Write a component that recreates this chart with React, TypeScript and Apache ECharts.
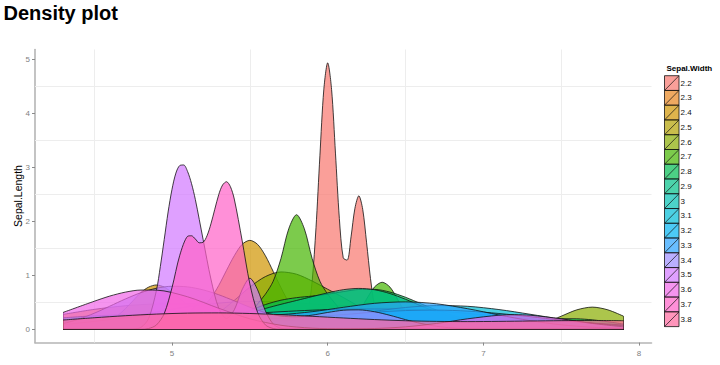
import React, { useEffect, useRef } from "react";
import * as echarts from "echarts";

type P = [number, number];

const groups = ["2.2", "2.3", "2.4", "2.5", "2.6", "2.7", "2.8", "2.9", "3", "3.1", "3.2", "3.3", "3.4", "3.5", "3.6", "3.7", "3.8"];

const d22: P[] = [[4.3, 0], [5.5, 0], [5.8, 0], [5.825, 0.025], [5.85, 0.1], [5.875, 0.34], [5.9, 0.88], [5.925, 1.88], [5.95, 3.21], [5.975, 4.43], [6.0, 4.93], [6.025, 4.44], [6.05, 3.26], [6.075, 2.05], [6.1, 1.32], [6.125, 1.28], [6.15, 1.71], [6.175, 2.24], [6.2, 2.47], [6.225, 2.22], [6.25, 1.6], [6.275, 0.94], [6.3, 0.44], [6.325, 0.17], [6.35, 0.05], [6.4, 0], [6.7, 0], [7.9, 0]];
const d23: P[] = [[4.3, 0.275], [4.5, 0.368], [4.7, 0.435], [4.9, 0.468], [5.1, 0.471], [5.3, 0.449], [5.5, 0.407], [5.7, 0.361], [5.9, 0.327], [6.1, 0.305], [6.3, 0.278], [6.5, 0.227], [6.7, 0.155], [6.9, 0.086], [7.1, 0.039], [7.3, 0.014], [7.5, 0.004], [7.7, 0.001], [7.9, 0]];
const d24: P[] = [[4.3, 0], [4.4, 0.007], [4.5, 0.04], [4.55, 0.08], [4.6, 0.15], [4.65, 0.25], [4.7, 0.38], [4.75, 0.53], [4.8, 0.68], [4.85, 0.78], [4.9, 0.82], [4.95, 0.78], [5.0, 0.68], [5.05, 0.57], [5.1, 0.46], [5.15, 0.41], [5.2, 0.44], [5.25, 0.58], [5.3, 0.81], [5.35, 1.09], [5.4, 1.36], [5.45, 1.57], [5.5, 1.645], [5.55, 1.57], [5.6, 1.36], [5.65, 1.07], [5.7, 0.77], [5.75, 0.5], [5.8, 0.29], [5.85, 0.16], [5.9, 0.08], [6.0, 0.014], [6.1, 0], [7.9, 0]];
const d25: P[] = [[4.3, 0.053], [4.5, 0.12], [4.7, 0.216], [4.9, 0.322], [5.1, 0.415], [5.3, 0.484], [5.5, 0.515], [5.7, 0.504], [5.9, 0.469], [6.1, 0.439], [6.3, 0.415], [6.5, 0.369], [6.7, 0.289], [6.9, 0.191], [7.1, 0.104], [7.3, 0.046], [7.5, 0.016], [7.7, 0.004], [7.9, 0.001]];
const d26: P[] = [[4.3, 0], [4.8, 0], [4.9, 0.004], [5.0, 0.016], [5.1, 0.054], [5.2, 0.144], [5.3, 0.307], [5.4, 0.534], [5.5, 0.78], [5.6, 0.975], [5.7, 1.061], [5.8, 1.019], [5.9, 0.893], [6.0, 0.741], [6.1, 0.588], [6.2, 0.424], [6.3, 0.261], [6.4, 0.129], [6.5, 0.05], [6.6, 0.015], [6.7, 0.004], [6.8, 0], [7.0, 0], [7.1, 0.004], [7.2, 0.015], [7.3, 0.05], [7.4, 0.125], [7.5, 0.242], [7.6, 0.359], [7.7, 0.41], [7.8, 0.359], [7.9, 0.242]];
const d27: P[] = [[4.3, 0], [4.9, 0], [4.95, 0.01], [5.0, 0.035], [5.05, 0.114], [5.1, 0.26], [5.15, 0.43], [5.2, 0.512], [5.25, 0.43], [5.3, 0.26], [5.35, 0.12], [5.4, 0.053], [5.45, 0.12], [5.5, 0.27], [5.55, 0.47], [5.6, 0.65], [5.65, 0.89], [5.7, 1.31], [5.75, 1.86], [5.8, 2.12], [5.85, 1.86], [5.9, 1.31], [5.95, 0.89], [6.0, 0.65], [6.05, 0.47], [6.1, 0.3], [6.15, 0.24], [6.2, 0.33], [6.25, 0.56], [6.3, 0.78], [6.35, 0.87], [6.4, 0.78], [6.45, 0.55], [6.5, 0.3], [6.55, 0.12], [6.6, 0.035], [6.65, 0.008], [6.7, 0], [7.9, 0]];
const d28: P[] = [[4.3, 0], [4.8, 0.0005], [4.9, 0.0025], [5.0, 0.0086], [5.1, 0.025], [5.2, 0.061], [5.3, 0.126], [5.4, 0.225], [5.5, 0.344], [5.6, 0.457], [5.7, 0.538], [5.8, 0.585], [5.9, 0.614], [6.0, 0.65], [6.1, 0.697], [6.2, 0.736], [6.3, 0.738], [6.4, 0.688], [6.5, 0.592], [6.6, 0.472], [6.7, 0.356], [6.8, 0.259], [6.9, 0.186], [7.0, 0.14], [7.1, 0.122], [7.2, 0.129], [7.3, 0.152], [7.4, 0.179], [7.5, 0.195], [7.6, 0.194], [7.7, 0.174], [7.8, 0.139], [7.9, 0.097]];
const d29: P[] = [[4.3, 0.145], [4.4, 0.157], [4.5, 0.145], [4.6, 0.115], [4.7, 0.078], [4.8, 0.047], [4.9, 0.027], [5.0, 0.023], [5.1, 0.036], [5.2, 0.071], [5.3, 0.129], [5.4, 0.208], [5.5, 0.298], [5.6, 0.385], [5.7, 0.462], [5.8, 0.533], [5.9, 0.604], [6.0, 0.674], [6.1, 0.732], [6.2, 0.756], [6.3, 0.732], [6.4, 0.661], [6.5, 0.555], [6.6, 0.432], [6.7, 0.315], [6.8, 0.221], [6.9, 0.163], [7.0, 0.138], [7.1, 0.143], [7.2, 0.156], [7.3, 0.16], [7.4, 0.146], [7.5, 0.115], [7.6, 0.078], [7.7, 0.046], [7.8, 0.023], [7.9, 0.01]];
const d30: P[] = [[4.3, 0.132], [4.5, 0.172], [4.7, 0.203], [4.9, 0.223], [5.1, 0.238], [5.3, 0.26], [5.5, 0.291], [5.7, 0.325], [5.9, 0.353], [6.1, 0.37], [6.3, 0.375], [6.5, 0.368], [6.7, 0.339], [6.9, 0.295], [7.1, 0.243], [7.3, 0.193], [7.5, 0.151], [7.7, 0.114], [7.9, 0.08]];
const d31: P[] = [[4.3, 0.173], [4.5, 0.222], [4.7, 0.253], [4.9, 0.255], [5.1, 0.231], [5.3, 0.194], [5.5, 0.164], [5.7, 0.159], [5.9, 0.19], [6.1, 0.253], [6.3, 0.333], [6.5, 0.403], [6.7, 0.439], [6.9, 0.425], [7.1, 0.365], [7.3, 0.278], [7.5, 0.187], [7.7, 0.112], [7.9, 0.059]];
const d32: P[] = [[4.3, 0.212], [4.5, 0.249], [4.7, 0.264], [4.9, 0.255], [5.1, 0.231], [5.3, 0.206], [5.5, 0.193], [5.7, 0.201], [5.9, 0.23], [6.1, 0.272], [6.3, 0.315], [6.5, 0.346], [6.7, 0.355], [6.9, 0.336], [7.1, 0.292], [7.3, 0.233], [7.5, 0.169], [7.7, 0.111], [7.9, 0.066]];
const d33: P[] = [[4.3, 0.083], [4.5, 0.145], [4.7, 0.212], [4.9, 0.265], [5.1, 0.286], [5.3, 0.276], [5.5, 0.261], [5.7, 0.272], [5.9, 0.325], [6.1, 0.406], [6.3, 0.48], [6.5, 0.507], [6.7, 0.471], [6.9, 0.38], [7.1, 0.265], [7.3, 0.16], [7.5, 0.083], [7.7, 0.037], [7.9, 0.014]];
const d34: P[] = [[4.3, 0.103], [4.4, 0.186], [4.5, 0.296], [4.6, 0.427], [4.7, 0.56], [4.8, 0.677], [4.9, 0.759], [5.0, 0.796], [5.1, 0.784], [5.2, 0.729], [5.3, 0.639], [5.4, 0.526], [5.5, 0.408], [5.6, 0.307], [5.7, 0.244], [5.8, 0.232], [5.9, 0.262], [6.0, 0.311], [6.1, 0.352], [6.2, 0.359], [6.3, 0.325], [6.4, 0.258], [6.5, 0.178], [6.6, 0.107], [6.7, 0.055], [6.8, 0.024], [6.9, 0.009], [7.0, 0.003], [7.1, 0], [7.9, 0]];
const d35: P[] = [[4.3, 0], [4.7, 0], [4.75, 0.004], [4.8, 0.033], [4.85, 0.2], [4.9, 0.72], [4.925, 1.16], [4.95, 1.66], [4.975, 2.17], [5.0, 2.59], [5.025, 2.89], [5.05, 3.03], [5.075, 3.04], [5.1, 2.92], [5.125, 2.7], [5.15, 2.4], [5.2, 1.66], [5.25, 0.93], [5.3, 0.39], [5.35, 0.2], [5.4, 0.36], [5.45, 0.73], [5.5, 0.944], [5.55, 0.73], [5.6, 0.34], [5.65, 0.097], [5.7, 0.017], [5.75, 0.002], [5.8, 0], [7.9, 0]];
const d36: P[] = [[4.3, 0.311], [4.5, 0.518], [4.6, 0.614], [4.7, 0.687], [4.8, 0.726], [4.9, 0.724], [5.1, 0.601], [5.3, 0.389], [5.5, 0.194], [5.7, 0.074], [5.9, 0.021], [6.1, 0.008], [6.3, 0.014], [6.5, 0.045], [6.7, 0.108], [6.9, 0.194], [7.1, 0.26], [7.2, 0.27], [7.3, 0.26], [7.5, 0.194], [7.7, 0.108], [7.9, 0.045]];
const d37: P[] = [[4.3, 0], [4.8, 0], [4.85, 0.014], [4.9, 0.08], [4.95, 0.29], [5.0, 0.77], [5.05, 1.37], [5.1, 1.72], [5.125, 1.73], [5.15, 1.67], [5.175, 1.6], [5.2, 1.61], [5.225, 1.73], [5.25, 1.95], [5.3, 2.49], [5.325, 2.67], [5.35, 2.73], [5.375, 2.64], [5.4, 2.41], [5.45, 1.65], [5.5, 0.84], [5.55, 0.31], [5.6, 0.08], [5.65, 0.014], [5.7, 0], [7.9, 0]];
const d38: P[] = [[4.3, 0.171], [4.5, 0.213], [4.7, 0.251], [4.9, 0.281], [5.1, 0.299], [5.3, 0.303], [5.5, 0.292], [5.7, 0.27], [5.9, 0.24], [6.1, 0.209], [6.3, 0.18], [6.5, 0.158], [6.7, 0.146], [6.9, 0.142], [7.1, 0.146], [7.3, 0.153], [7.5, 0.159], [7.7, 0.163], [7.9, 0.159]];

const densities: P[][] = [d22, d23, d24, d25, d26, d27, d28, d29, d30, d31, d32, d33, d34, d35, d36, d37, d38];

const xTicks = [5, 6, 7, 8];
const yTicks = [0, 1, 2, 3, 4, 5];
const xGrid = [4.5, 5.5, 6.5, 7.5];
const yGrid = [0.5, 1.5, 2.5, 3.5, 4.5];

const FONT = "'Liberation Sans', Arial, sans-serif";
const ALPHA = 0.7;

// ggplot-style hue palette (HCL, c=100, l=65)
function hcl(h: number, c: number, l: number): [number, number, number] {
  const WHITE_Y = 100.0, WHITE_u = 0.1978398, WHITE_v = 0.4683363;
  const hr = (h * Math.PI) / 180;
  const U = c * Math.cos(hr);
  const V = c * Math.sin(hr);
  const Y = WHITE_Y * (l > 7.999592 ? Math.pow((l + 16) / 116, 3) : l / 903.3);
  const u = U / (13 * l) + WHITE_u;
  const v = V / (13 * l) + WHITE_v;
  const X = (9.0 * Y * u) / (4 * v);
  const Z = -X / 3 - 5 * Y + (3 * Y) / v;
  const g = (t: number) => (t > 0.00304 ? 1.055 * Math.pow(t, 1 / 2.4) - 0.055 : 12.92 * t);
  const cl = (t: number) => Math.round(255 * Math.max(0, Math.min(1, t)));
  const r = g((3.240479 * X - 1.53715 * Y - 0.498535 * Z) / WHITE_Y);
  const gg = g((-0.969256 * X + 1.875992 * Y + 0.041556 * Z) / WHITE_Y);
  const b = g((0.055648 * X - 0.204043 * Y + 1.057311 * Z) / WHITE_Y);
  return [cl(r), cl(gg), cl(b)];
}
const palette = groups.map((_, i) => hcl(15 + (360 * i) / groups.length, 100, 65));
const rgb = (c: number[]) => `rgb(${c[0]},${c[1]},${c[2]})`;
const rgba = (c: number[], a: number) => `rgba(${c[0]},${c[1]},${c[2]},${a})`;

export default function App() {
  const ref = useRef<HTMLDivElement>(null);
  useEffect(() => {
    if (!ref.current) return;
    const chart = echarts.init(ref.current, undefined, { renderer: "svg" });
    const yMin = -0.2465;
    const yMax = 5.1765;

    const series: any[] = [
      {
        type: "line",
        name: "grid",
        data: [],
        z: 1,
        silent: true,
        markLine: {
          z: 1,
          silent: true,
          symbol: ["none", "none"],
          label: { show: false },
          animation: false,
          emphasis: { disabled: true },
          lineStyle: { color: "#EDEDED", width: 1, type: "solid" },
          data: [...xGrid.map((v) => ({ xAxis: v })), ...yGrid.map((v) => ({ yAxis: v }))],
        },
      },
    ];

    densities.forEach((d, i) => {
      const first = d[0];
      const last = d[d.length - 1];
      const edges: any[] = [[{ coord: [first[0], 0] }, { coord: [last[0], 0] }]];
      if (first[1] > 0) edges.push([{ coord: [first[0], 0] }, { coord: [first[0], first[1]] }]);
      if (last[1] > 0) edges.push([{ coord: [last[0], 0] }, { coord: [last[0], last[1]] }]);
      const z = 10 + i;
      series.push({
        type: "line",
        name: groups[i],
        data: d,
        smooth: 0.3,
        symbol: "none",
        showSymbol: false,
        silent: true,
        z,
        lineStyle: { color: "#111", width: 0.8 },
        areaStyle: { color: rgb(palette[i]), opacity: ALPHA },
        markLine: {
          z,
          silent: true,
          symbol: ["none", "none"],
          label: { show: false },
          animation: false,
          emphasis: { disabled: true },
          lineStyle: { color: "#111", width: 0.8, type: "solid" },
          data: edges,
        },
      });
    });

    const keyX = 664.5, keyW = 14.5, keyY0 = 75.7, keyH = 14.76;
    const legendEls: any[] = [
      {
        type: "text",
        x: 666.5,
        y: 68.5,
        style: { text: "Sepal.Width", font: `bold 8px ${FONT}`, fill: "#000", verticalAlign: "middle", align: "left" },
      },
    ];
    groups.forEach((g, i) => {
      const top = keyY0 + i * keyH;
      legendEls.push({
        type: "rect",
        shape: { x: keyX, y: top, width: keyW, height: keyH },
        style: { fill: rgba(palette[i], ALPHA), stroke: "#111", lineWidth: 0.8 },
      });
      legendEls.push({
        type: "line",
        shape: { x1: keyX, y1: top + keyH, x2: keyX + keyW, y2: top },
        style: { stroke: "#111", lineWidth: 0.7 },
      });
      legendEls.push({
        type: "text",
        x: keyX + keyW + 1.5,
        y: top + keyH / 2,
        style: { text: g, font: `8px ${FONT}`, fill: "#111", verticalAlign: "middle", align: "left" },
      });
    });

    chart.setOption({
      animation: false,
      backgroundColor: "#fff",
      grid: { left: 35, right: 68.5, top: 49.5, bottom: 22.4, containLabel: false },
      xAxis: {
        type: "value",
        min: 4.12,
        max: 8.08,
        axisLine: { show: true, onZero: false, lineStyle: { color: "#B5B5B5", width: 1.6 } },
        axisTick: { show: true, length: 3, customValues: xTicks, lineStyle: { color: "#8a8a8a", width: 1 } },
        axisLabel: { customValues: xTicks, fontSize: 8, color: "#7f7f7f", fontFamily: FONT, margin: 7 },
        splitLine: { show: false },
      },
      yAxis: {
        type: "value",
        min: yMin,
        max: yMax,
        axisLine: { show: true, onZero: false, lineStyle: { color: "#B5B5B5", width: 1.6 } },
        axisTick: { show: true, length: 3, customValues: yTicks, lineStyle: { color: "#8a8a8a", width: 1 } },
        axisLabel: { customValues: yTicks, fontSize: 8, color: "#7f7f7f", fontFamily: FONT, margin: 5 },
        splitLine: { show: false },
      },
      series,
      graphic: [
        {
          type: "text",
          x: 3.5,
          y: 12.5,
          style: { text: "Density plot", font: `bold 20px ${FONT}`, fill: "#000", verticalAlign: "middle", align: "left" },
        },
        {
          type: "text",
          x: 18,
          y: 196,
          rotation: Math.PI / 2,
          style: { text: "Sepal.Length", font: `10.5px ${FONT}`, fill: "#000", verticalAlign: "middle", align: "center" },
        },
        ...legendEls,
      ],
    });
    return () => chart.dispose();
  }, []);
  return <div ref={ref} style={{ position: "absolute", left: 0, top: 0, width: 720, height: 365 }} />;
}
